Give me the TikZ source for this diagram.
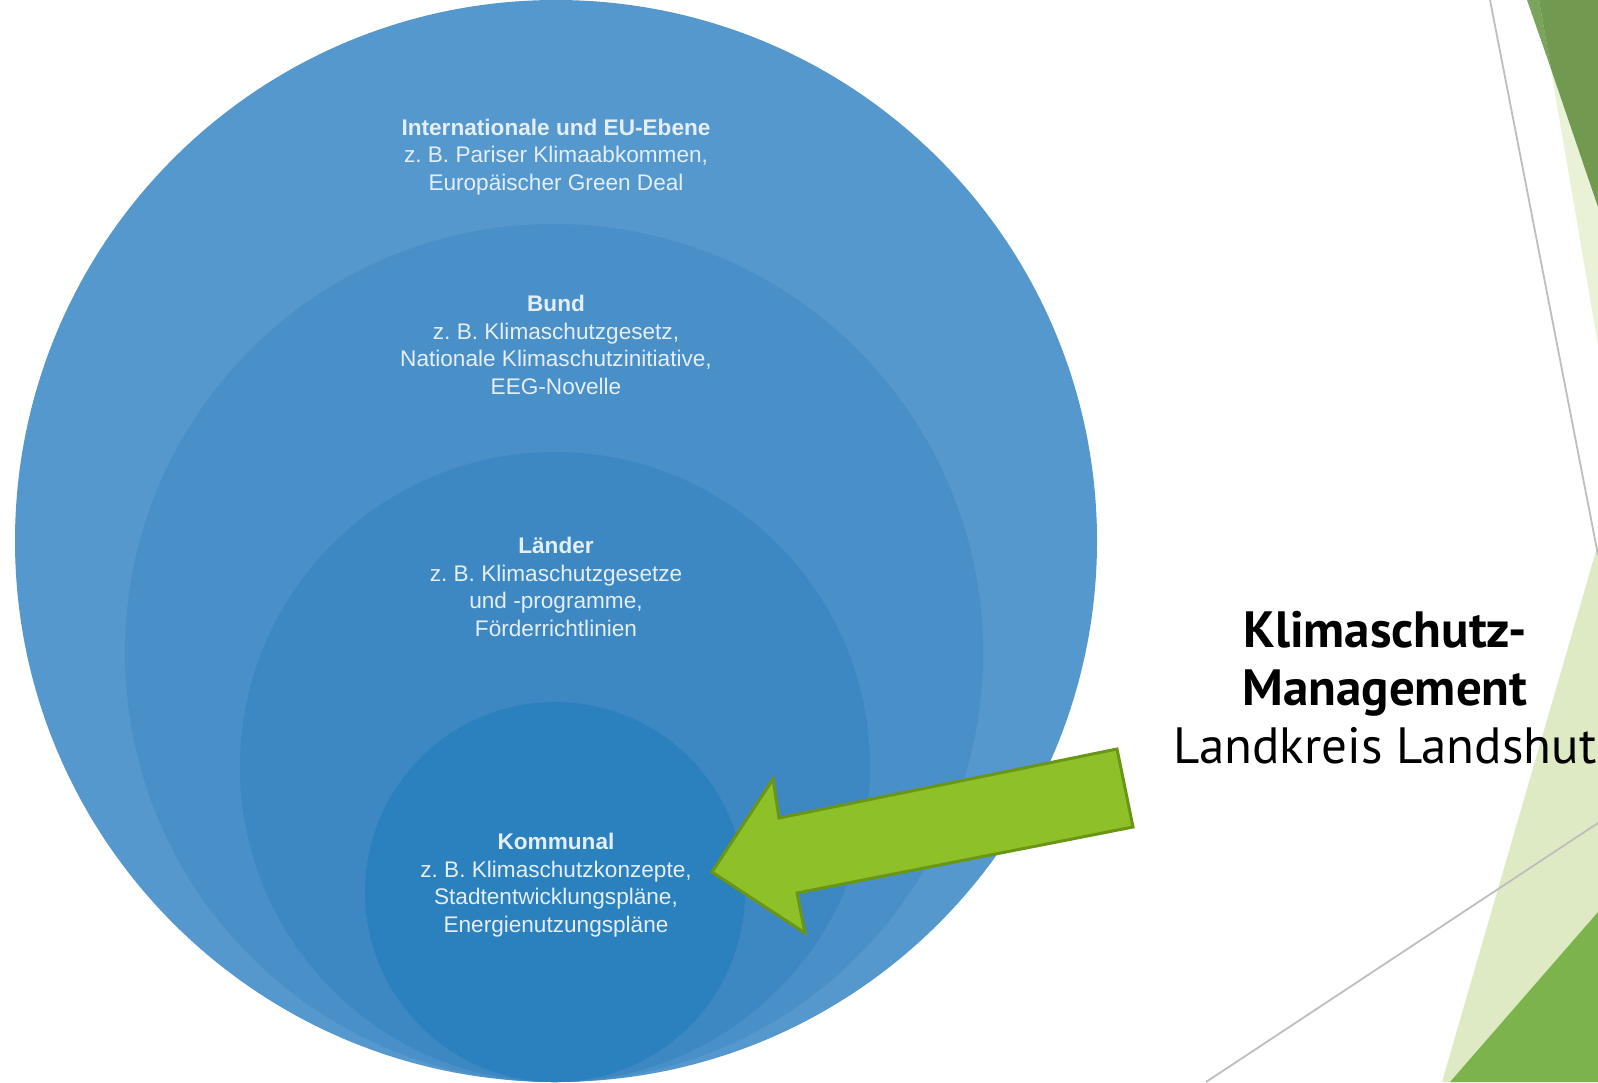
\documentclass[tikz,border=0pt]{standalone}
\usepackage{fontspec}
\setmainfont{Liberation Sans}
\newfontfamily\slidefont{PT Sans}
\usetikzlibrary{positioning}

\definecolor{ringA}{RGB}{84,152,205}
\definecolor{ringB}{RGB}{73,143,200}
\definecolor{ringC}{RGB}{61,136,195}
\definecolor{ringD}{RGB}{43,128,190}
\definecolor{ringtext}{RGB}{228,238,247}
\definecolor{arrowfill}{RGB}{141,193,39}
\definecolor{arrowline}{RGB}{106,150,22}
\definecolor{leafdark}{RGB}{113,154,80}
\definecolor{leafsoft}{RGB}{122,163,92}
\definecolor{leaflight}{RGB}{233,242,215}
\definecolor{leafpale}{RGB}{221,234,196}
\definecolor{leafmid}{RGB}{125,179,77}
\definecolor{hairline}{RGB}{190,190,190}

\begin{document}
\begin{tikzpicture}[
	x=0.5pt,
	y=-0.5pt,
	ebene/.style={
		align=center,
		text=ringtext,
		inner sep=0pt,
		font=\fontsize{11.3}{13.8}\selectfont
	},
	pfeil/.style={
		fill=arrowfill,
		draw=arrowline,
		line width=1.5pt,
		line join=miter
	},
	kante/.style={
		draw=hairline,
		line width=0.9pt
	}
	]
	\useasboundingbox (0,0) rectangle (1598,1082);
	\clip (0,0) rectangle (1598,1082);
	\fill[white] (0,0) rectangle (1598,1082);

	% facet shapes on the right edge
	\fill[leaflight] (1539,0) -- (1598,345) -- (1598,0) -- cycle;
	\fill[leafsoft] (1527,0) -- (1551,69) -- (1539,0) -- cycle;
	\fill[leafdark] (1539,0) -- (1551,69) -- (1598,207) -- (1598,0) -- cycle;
	\fill[leafpale] (1598,544) -- (1442,1082) -- (1598,1082) -- cycle;
	\fill[leafmid] (1598,912) -- (1450,1082) -- (1598,1082) -- cycle;
	\draw[kante] (1490,0) -- (1598,555);
	\draw[kante] (1206,1082) -- (1598,823);

	% nested levels, all touching at the bottom
	\fill[ringA] (556,541) circle [radius=541];
	\fill[ringB] (554,653) circle [radius=429];
	\fill[ringC] (555,767) circle [radius=315];
	\fill[ringD] (555,892) circle [radius=190];

	\node[ebene] (intl) at (556,157) {\textbf{Internationale und EU-Ebene}\\
		z.\ B. Pariser Klimaabkommen,\\
		Europäischer Green Deal};
	\node[ebene] (bund) at (556,345) {\textbf{Bund}\\
		z.\ B. Klimaschutzgesetz,\\
		Nationale Klimaschutzinitiative,\\
		EEG-Novelle};
	\node[ebene] (laender) at (556,587) {\textbf{Länder}\\
		z.\ B. Klimaschutzgesetze\\
		und -programme,\\
		Förderrichtlinien};
	\node[ebene] (kommunal) at (556,885) {\textbf{Kommunal}\\
		z.\ B. Klimaschutzkonzepte,\\
		Stadtentwicklungspläne,\\
		Energienutzungspläne};

	% block arrow towards the local level
	\draw[pfeil] (1117,749) -- (1133,827) -- (797,893) -- (805,933)
		-- (712,872) -- (773,779) -- (779,818) -- cycle;

	\node[align=center, inner sep=0pt, font=\slidefont\fontsize{25.5}{29}\selectfont]
		(ksm) at (1385,688) {\textbf{Klimaschutz-}\\
		\textbf{Management}\\
		Landkreis Landshut};
\end{tikzpicture}
\end{document}
